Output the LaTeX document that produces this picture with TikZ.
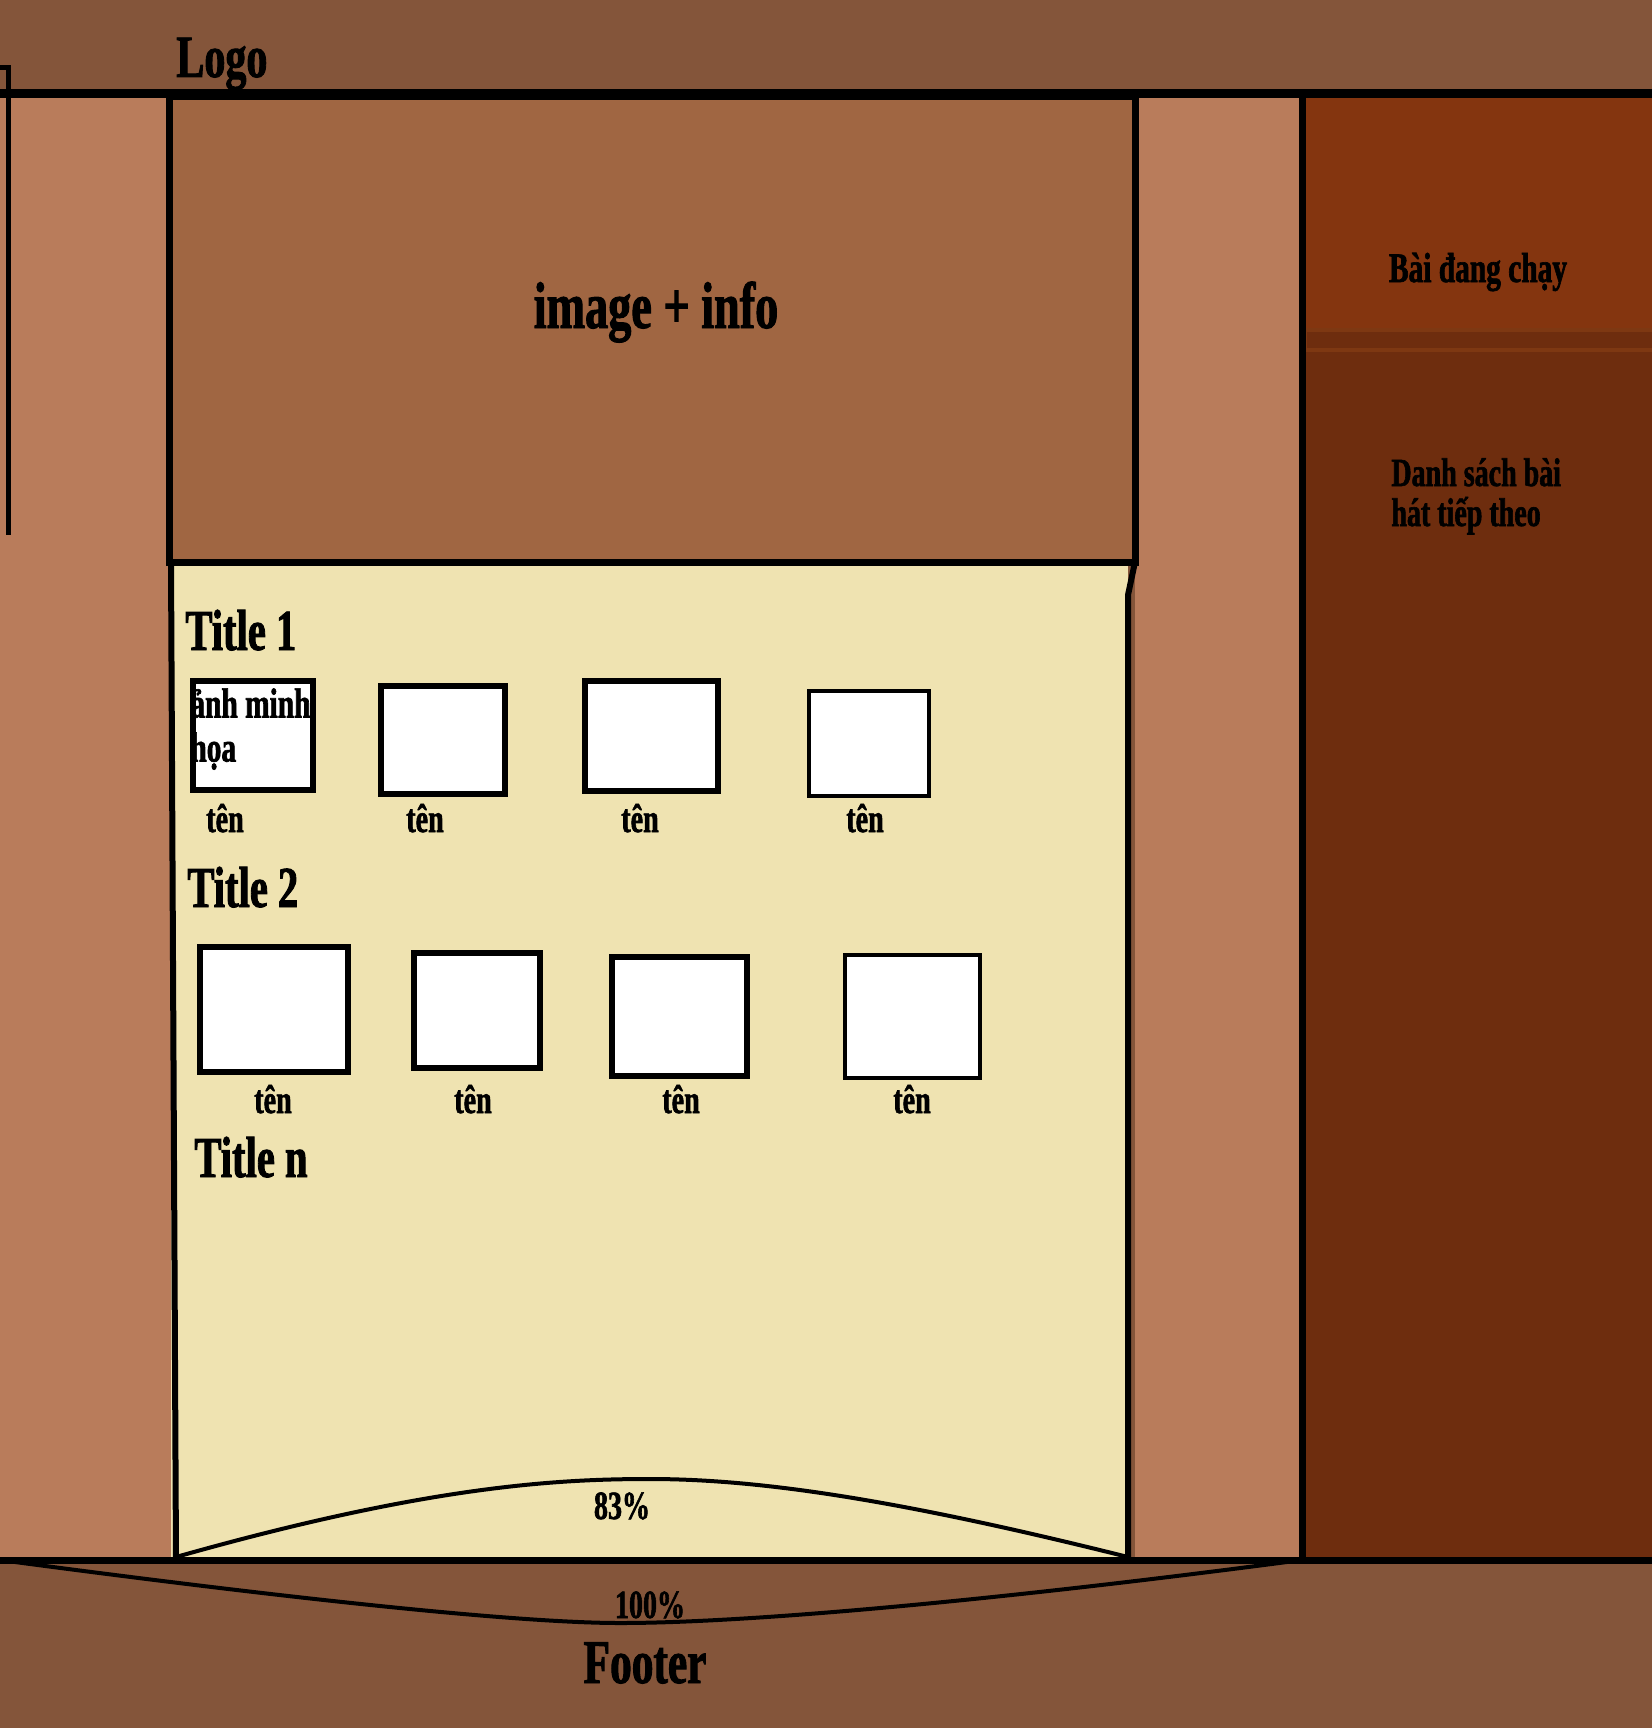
\documentclass[tikz,border=0pt]{standalone}
\usepackage{fontspec}
\newfontfamily\posterfont[FakeStretch=0.7,FakeBold=1.5]{Liberation Serif}
\newcommand{\pfont}[1]{\posterfont\bfseries\fontsize{#1}{#1}\selectfont}
\usetikzlibrary{positioning}
\definecolor{headbrown}{HTML}{84553A}
\definecolor{sidebrown}{HTML}{B97C5B}
\definecolor{imgbrown}{HTML}{A06642}
\definecolor{paper}{HTML}{EFE3B1}
\definecolor{nowplay}{HTML}{84350F}
\definecolor{queue}{HTML}{6E2D0E}
\definecolor{bandedge}{HTML}{7E3812}

\begin{document}
\begin{tikzpicture}[x=0.5pt, y=-0.5pt,
  thumb/.style={draw, fill=white, line width=3pt, inner sep=0pt},
  thinthumb/.style={thumb, line width=2pt},
  ttl/.style={font=\pfont{29}, anchor=base west, inner sep=0pt},
  tenlbl/.style={font=\pfont{20}, anchor=base, inner sep=0pt},
  lbl/.style={font=\pfont{20}, anchor=base, inner sep=0pt},
  curve/.style={line width=2pt}
]
\useasboundingbox (0,0) rectangle (1652,1728);
\fill[headbrown] (0,0) rectangle (1652,1728);
\fill[sidebrown] (0,94) rectangle (171,1560);
\fill[sidebrown] (1135,94) rectangle (1302,1560);
\fill[nowplay] (1302,94) rectangle (1652,331);
\fill[queue] (1302,331) rectangle (1652,1560);
\draw[bandedge, line width=2pt, fill=queue] (1305,330) rectangle (1660,350);
\fill[paper] (171,562) rectangle (1128,1560);
\draw[line width=3pt] (171,562) -- (1135,562) -- (1128,595) -- (1128,1560);
\draw[line width=3pt] (171,562) -- (176,1560);
\draw[fill=imgbrown, line width=3.5pt] (169,97) rectangle (1135,562);
\draw[line width=4.5pt] (0,94) -- (1652,94);
\draw[line width=3.5pt] (1302,94) -- (1302,1560);
\draw[line width=3.5pt] (0,1560) -- (1652,1560);
\draw[line width=2.5pt] (0,68) -- (8,68) -- (8,535);

\node[font=\pfont{30}, anchor=base west, inner sep=0pt] (logo) at (176,77) {Logo};
\node[font=\pfont{33}, anchor=base, inner sep=0pt] (info) at (656,328) {image + info};
\node[font=\pfont{21}, anchor=base, inner sep=0pt] (playing) at (1478,282) {Bài đang chạy};
\node[font=\pfont{20}, anchor=base west, inner sep=0pt, align=left] (next) at (1391,526)
  {Danh sách bài\\hát tiếp theo};

\node[ttl] (t1) at (185,650) {Title 1};
\node[thumb, minimum width=60pt, minimum height=54.5pt] (a1) at (252.5,735) {};
\node[thumb, minimum width=62pt, minimum height=54pt] (a2) at (442.5,739.5) {};
\node[thumb, minimum width=66.5pt, minimum height=55pt] (a3) at (651,735.5) {};
\node[thinthumb, minimum width=60pt, minimum height=52.5pt] (a4) at (868.5,743) {};
\node[font=\pfont{21}, anchor=north west, inner sep=0pt, align=left] (anh) at (190,688)
  {ảnh minh\\[1pt]họa};
\node[tenlbl] (n1) at (225,832) {tên};
\node[tenlbl] (n2) at (425,832) {tên};
\node[tenlbl] (n3) at (640,832) {tên};
\node[tenlbl] (n4) at (865,832) {tên};

\node[ttl] (t2) at (187,907) {Title 2};
\node[thumb, minimum width=74pt, minimum height=62.5pt] (b1) at (273.5,1009) {};
\node[thumb, minimum width=63pt, minimum height=57.5pt] (b2) at (476.5,1010) {};
\node[thumb, minimum width=67.5pt, minimum height=59.5pt] (b3) at (679,1016) {};
\node[thinthumb, minimum width=67.5pt, minimum height=61.5pt] (b4) at (912,1016) {};
\node[tenlbl] (m1) at (273,1113) {tên};
\node[tenlbl] (m2) at (473,1113) {tên};
\node[tenlbl] (m3) at (681,1113) {tên};
\node[tenlbl] (m4) at (912,1113) {tên};

\node[ttl] (tn) at (194,1177) {Title n};

\coordinate (inL) at (176,1557);
\coordinate (inR) at (1128,1557);
\coordinate (outL) at (0,1560);
\coordinate (outR) at (1302,1560);
\draw[curve] (inL) .. controls (430,1485) and (560,1479) .. (650,1479)
  .. controls (760,1479) and (900,1500) .. (inR);
\draw[curve] (outL) .. controls (300,1600) and (520,1623) .. (620,1623)
  .. controls (750,1623) and (1000,1600) .. (outR);
\node[lbl] (inner) at (622,1519) {83\%};
\node[lbl] (outer) at (650,1618) {100\%};
\node[font=\pfont{31}, anchor=base, inner sep=0pt] (footer) at (645,1683) {Footer};
\end{tikzpicture}
\end{document}
